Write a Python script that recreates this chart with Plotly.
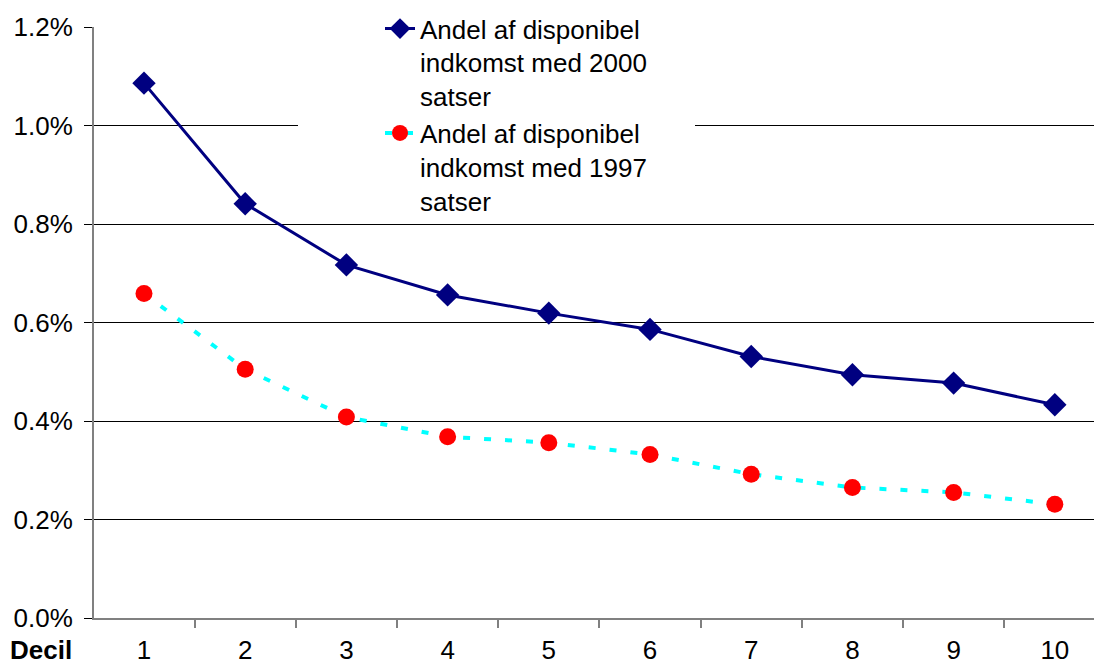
import plotly.graph_objects as go

# Income deciles and the share of disposable income (in %)
deciles = ["1", "2", "3", "4", "5", "6", "7", "8", "9", "10"]
share_2000_rates = [1.086, 0.841, 0.717, 0.656, 0.619, 0.586, 0.531, 0.494, 0.477, 0.433]
share_1997_rates = [0.659, 0.505, 0.408, 0.368, 0.356, 0.332, 0.292, 0.265, 0.255, 0.231]
series_names = [
    "Andel af disponibel<br>indkomst med 2000<br>satser",
    "Andel af disponibel<br>indkomst med 1997<br>satser",
]
y_ticks = [0.0, 0.2, 0.4, 0.6, 0.8, 1.0, 1.2]
y_tick_labels = ["0.0%", "0.2%", "0.4%", "0.6%", "0.8%", "1.0%", "1.2%"]

FONT = "Liberation Sans, Arial, sans-serif"

fig = go.Figure()
fig.add_trace(go.Scatter(
    x=deciles, y=share_2000_rates, name=series_names[0],
    mode="lines+markers",
    line=dict(color="#000080", width=3),
    marker=dict(symbol="diamond", size=18, color="#000080"),
))
fig.add_trace(go.Scatter(
    x=deciles, y=share_1997_rates, name=series_names[1],
    mode="lines+markers",
    line=dict(color="#00FFFF", width=4, dash="7px,14px"),
    marker=dict(symbol="circle", size=17, color="#FF0000"),
))

# white panel behind the legend, hiding the gridlines there
fig.add_shape(
    type="rect", xref="paper", yref="paper",
    x0=0.204, x1=0.601, y0=0.69, y1=1.05,
    fillcolor="white", line=dict(width=0), layer="above",
)

fig.update_layout(
    width=1094, height=666,
    margin=dict(l=94, r=0, t=27, b=48, autoexpand=False),
    paper_bgcolor="white", plot_bgcolor="white",
    font=dict(family=FONT, size=26, color="black"),
    showlegend=True,
    legend=dict(
        x=0.286, y=1.037, xanchor="left", yanchor="top",
        bgcolor="rgba(255,255,255,0)", borderwidth=0,
        font=dict(family=FONT, size=26, color="black"),
        valign="top", tracegroupgap=0,
    ),
    xaxis=dict(
        type="category",
        range=[-0.494, 9.387],
        showgrid=False, zeroline=False,
        showline=True, linecolor="#808080", linewidth=2,
        ticks="outside", ticklen=8, tickcolor="#808080", tickwidth=2,
        tickson="boundaries",
        ticklabelstandoff=8,
        tickfont=dict(family=FONT, size=26, color="black"),
    ),
    yaxis=dict(
        range=[0, 1.2],
        tickvals=y_ticks, ticktext=y_tick_labels,
        showgrid=True, gridcolor="black", gridwidth=1,
        zeroline=False,
        showline=True, linecolor="#808080", linewidth=2,
        ticks="outside", ticklen=8, tickcolor="black", tickwidth=1,
        ticklabelstandoff=6,
        tickfont=dict(family=FONT, size=26, color="black"),
    ),
    annotations=[dict(
        text="<b>Decil</b>", xref="paper", yref="paper",
        x=-0.086, y=-0.054, xanchor="left", yanchor="middle",
        showarrow=False, font=dict(family=FONT, size=26, color="black"),
    )],
)

fig.write_html("out.html")
